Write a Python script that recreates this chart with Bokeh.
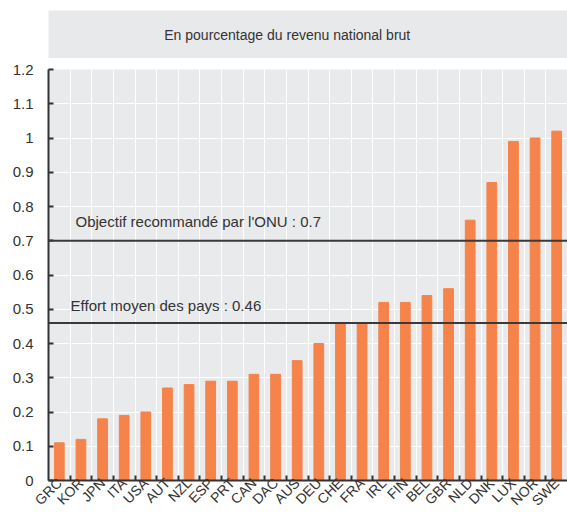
import math
from bokeh.plotting import figure
from bokeh.models import Range1d, FixedTicker, CustomJSTickFormatter, Span, Label
from bokeh.layouts import column
from bokeh.embed import file_html
from bokeh.resources import INLINE
from bokeh.core.properties import value

# ---- data ----
countries = ["GRC", "KOR", "JPN", "ITA", "USA", "AUT", "NZL", "ESP", "PRT", "CAN", "DAC", "AUS",
             "DEU", "CHE", "FRA", "IRL", "FIN", "BEL", "GBR", "NLD", "DNK", "LUX", "NOR", "SWE"]
oda_gni = [0.11, 0.12, 0.18, 0.19, 0.20, 0.27, 0.28, 0.29, 0.29, 0.31, 0.31, 0.35,
           0.40, 0.46, 0.46, 0.52, 0.52, 0.54, 0.56, 0.76, 0.87, 0.99, 1.00, 1.02]
un_target = 0.7
average_effort = 0.46
y_ticks = [0, 0.1, 0.2, 0.3, 0.4, 0.5, 0.6, 0.7, 0.8, 0.9, 1.0, 1.1, 1.2]
title_text = "En pourcentage du revenu national brut"
un_label = "Objectif recommandé par l'ONU : 0.7"
avg_label = "Effort moyen des pays : 0.46"

FONT = "Liberation Sans"
TXT = "#333333"
BAR = "#F5834A"
PLOT_BG = "#E9EAEC"

n = len(countries)
centers = [i + 0.5 for i in range(n)]
bounds = [i for i in range(1, n)]

# ---- title box ----
t = figure(width=567, height=58, x_range=Range1d(0, 1), y_range=Range1d(0, 1),
           output_backend="svg", toolbar_location=None,
           min_border_left=45, min_border_right=0, min_border_top=10, min_border_bottom=0,
           background_fill_color="#E8E9EB", border_fill_color="white")
t.axis.visible = False
t.grid.visible = False
t.outline_line_color = None
t.text(x=[0.46], y=[0.5], text=[title_text], text_align="center", text_baseline="middle",
       text_font=value(FONT), text_font_size="14px", text_color=TXT)

# ---- main chart ----
p = figure(width=567, height=459, x_range=Range1d(0, n), y_range=Range1d(0, 1.2),
           output_backend="svg", toolbar_location=None,
           min_border_left=48, min_border_right=0, min_border_top=11, min_border_bottom=36,
           background_fill_color=PLOT_BG, border_fill_color="white")
p.outline_line_color = None

p.vbar(x=centers, top=oda_gni, width=0.45, fill_color=BAR, line_color=BAR)

p.add_layout(Span(location=un_target, dimension="width", line_color="#3a3a3a", line_width=2))
p.add_layout(Span(location=average_effort, dimension="width", line_color="#3a3a3a", line_width=2))

p.add_layout(Label(x=1.25, y=un_target, y_offset=11, text=un_label, text_font=FONT,
                   text_font_size="15px", text_color=TXT, text_baseline="bottom"))
p.add_layout(Label(x=1.02, y=average_effort, y_offset=9, text=avg_label, text_font=FONT,
                   text_font_size="15px", text_color=TXT, text_baseline="bottom"))

# x axis
p.xaxis.ticker = FixedTicker(ticks=centers, minor_ticks=bounds)
p.xaxis.formatter = CustomJSTickFormatter(args=dict(names=countries),
                                          code="return names[Math.floor(tick)];")
p.xaxis.major_tick_in = 0
p.xaxis.major_tick_out = 0
p.xaxis.minor_tick_in = 5
p.xaxis.minor_tick_out = 0
p.xaxis.minor_tick_line_color = "#333333"
p.xaxis.minor_tick_line_width = 2
p.xaxis.major_label_orientation = math.pi / 4
p.xaxis.major_label_standoff = 0

# y axis
p.yaxis.ticker = FixedTicker(ticks=y_ticks)
p.yaxis.formatter = CustomJSTickFormatter(code="return String(Math.round(tick*10)/10);")
p.yaxis.major_tick_in = 5
p.yaxis.major_tick_out = 0
p.yaxis.minor_tick_line_color = None
p.yaxis.major_label_standoff = 15

for ax in (p.xaxis, p.yaxis):
    ax.axis_line_color = "#333333"
    ax.axis_line_width = 2
    ax.major_tick_line_color = "#333333"
    ax.major_tick_line_width = 2
    ax.major_label_text_font = FONT
    ax.major_label_text_color = TXT
p.xaxis.major_label_text_font_size = "14px"
p.yaxis.major_label_text_font_size = "15px"

p.xgrid.grid_line_color = None
p.xgrid.minor_grid_line_color = "white"
p.xgrid.minor_grid_line_width = 1
p.ygrid.grid_line_color = "white"
p.ygrid.grid_line_width = 1

layout = column(t, p, spacing=0)
open("out.html", "w").write(file_html(layout, INLINE))
